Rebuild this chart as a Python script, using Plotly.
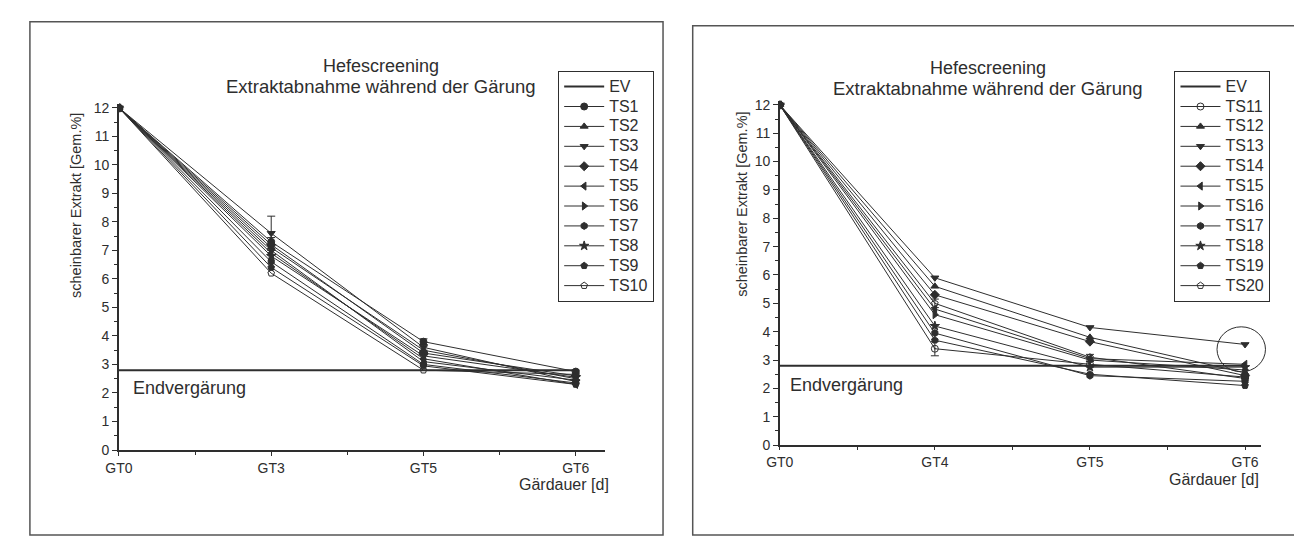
import plotly.graph_objects as go

W, H = 1302, 538

# ---------------- data ----------------
x_left_labels = ["GT0", "GT3", "GT5", "GT6"]
x_right_labels = ["GT0", "GT4", "GT5", "GT6"]
x_pos = [0, 1, 2, 3]

ev_value = [2.8, 2.8, 2.8, 2.8]

left_names = ["TS1", "TS2", "TS3", "TS4", "TS5", "TS6", "TS7", "TS8", "TS9", "TS10"]
TS1 = [12.0, 7.3, 3.8, 2.75]
TS2 = [12.0, 7.1, 3.5, 2.5]
TS3 = [12.0, 7.6, 3.6, 2.4]
TS4 = [12.0, 7.2, 3.4, 2.6]
TS5 = [12.0, 6.9, 3.2, 2.3]
TS6 = [12.0, 7.0, 3.1, 2.45]
TS7 = [12.0, 6.6, 3.0, 2.35]
TS8 = [12.0, 6.8, 3.3, 2.55]
TS9 = [12.0, 6.4, 2.95, 2.3]
TS10 = [12.0, 6.2, 2.8, 2.65]
left_values = [TS1, TS2, TS3, TS4, TS5, TS6, TS7, TS8, TS9, TS10]
left_err = {"TS3": [0, 0.6, 0.1, 0.05], "TS1": [0, 0.15, 0.1, 0.05]}

right_names = ["TS11", "TS12", "TS13", "TS14", "TS15", "TS16", "TS17", "TS18", "TS19", "TS20"]
TS11 = [12.0, 3.4, 2.85, 2.4]
TS12 = [12.0, 5.6, 3.8, 2.55]
TS13 = [12.0, 5.9, 4.15, 3.55]
TS14 = [12.0, 5.3, 3.65, 2.45]
TS15 = [12.0, 4.8, 3.05, 2.85]
TS16 = [12.0, 4.6, 3.0, 2.65]
TS17 = [12.0, 3.95, 2.45, 2.25]
TS18 = [12.0, 4.2, 2.75, 2.75]
TS19 = [12.0, 3.7, 2.5, 2.1]
TS20 = [12.0, 5.0, 3.1, 2.35]
right_values = [TS11, TS12, TS13, TS14, TS15, TS16, TS17, TS18, TS19, TS20]
right_err = {"TS11": [0, 0.25, 0.1, 0.05], "TS20": [0, 0.15, 0.1, 0.05]}

symbols = ["circle", "triangle-up", "triangle-down", "diamond", "triangle-left",
           "triangle-right", "hexagon", "star", "pentagon", "pentagon-open"]
symbols_right = ["circle-open-dot"] + symbols[1:]

y_ticks = list(range(0, 13))

# ---------------- figure ----------------
INK = "#2e2e2e"
FONT = "Liberation Sans"
LEG_TXT = 16

fig = go.Figure()

def leg_label(n):
    return "<span style='font-size:%dpx'>%s</span>" % (LEG_TXT, n)

def add_panel(names, values, errs, syms, xa, ya, legend_name):
    fig.add_trace(go.Scatter(
        x=x_pos, y=ev_value, mode="lines", name=leg_label("EV"),
        line=dict(color=INK, width=2), xaxis=xa, yaxis=ya,
        legend=legend_name, showlegend=True))
    for n, v, s in zip(names, values, syms):
        e = errs.get(n)
        fig.add_trace(go.Scatter(
            x=x_pos, y=v, mode="lines+markers", name=leg_label(n),
            line=dict(color=INK, width=1),
            marker=dict(symbol=s, size=7, color=INK,
                        line=dict(color=INK, width=1)),
            error_y=dict(type="data", array=e, visible=e is not None,
                         color=INK, thickness=1, width=4),
            xaxis=xa, yaxis=ya, legend=legend_name))

add_panel(left_names, left_values, left_err, symbols, "x", "y", "legend")
add_panel(right_names, right_values, right_err, symbols_right, "x2", "y2", "legend2")

def px_x(p):
    return p / W

def px_y(p):
    return 1 - p / H

axis_common = dict(
    showgrid=False, zeroline=False, showline=True, linecolor=INK, linewidth=1.5,
    ticks="outside", ticklen=5, tickwidth=1, tickcolor=INK,
    tickfont=dict(family=FONT, size=14, color=INK),
    minor=dict(ticks="outside", ticklen=3, tickwidth=1, tickcolor=INK),
)

legend_common = dict(xanchor="left", yanchor="top",
                     bordercolor=INK, borderwidth=1, bgcolor="white",
                     font=dict(family=FONT, size=13, color=INK), itemwidth=40,
                     tracegroupgap=0)

fig.update_layout(
    width=W, height=H,
    margin=dict(l=0, r=0, t=0, b=0),
    paper_bgcolor="white", plot_bgcolor="white",
    font=dict(family=FONT, color=INK),
    xaxis=dict(domain=[px_x(98), px_x(589)], range=[0, 3.19],
               tickvals=x_pos, ticktext=x_left_labels, anchor="y",
               **axis_common),
    yaxis=dict(domain=[px_y(448), px_y(93.6)], range=[0, 12.15],
               tickvals=y_ticks, anchor="x", **axis_common),
    xaxis2=dict(domain=[px_x(766), px_x(1252)], range=[0, 3.1],
                tickvals=x_pos, ticktext=x_right_labels, anchor="y2",
                **axis_common),
    yaxis2=dict(domain=[px_y(443), px_y(90.6)], range=[0, 12.15],
                tickvals=y_ticks, anchor="x2", **axis_common),
    legend=dict(x=px_x(542), y=px_y(60), **legend_common),
    legend2=dict(x=px_x(1165), y=px_y(60), **legend_common),
)
fig.update_xaxes(minor=dict(tickvals=[0.5, 1.5, 2.5]), ticklen=4)
fig.update_layout(xaxis2=dict(ticklen=3))
fig.update_yaxes(minor=dict(dtick=0.5))

annotations = []
def ann(text, x, y, size, xanchor="center", angle=0):
    annotations.append(dict(text=text, x=px_x(x), y=px_y(y), xref="paper", yref="paper",
                            showarrow=False, xanchor=xanchor, yanchor="middle",
                            textangle=angle,
                            font=dict(family=FONT, size=size, color=INK)))

for cx, yt1, yt2, ylab_x, ylab_y, endx, endy, gdx, gdy in [
        (363, 55, 76, 54, 198, 110, 385, 595, 483),
        (977, 57, 78, 727, 197, 774, 381, 1252, 478)]:
    ann("Hefescreening", cx, yt1, 18)
    ann("Extraktabnahme während der Gärung", cx, yt2, 18.5)
    ann("scheinbarer Extrakt [Gem.%]", ylab_x, ylab_y, 14.5, angle=-90)
    ann("Endvergärung", endx, endy, 18, xanchor="left")
    ann("Gärdauer [d]", gdx, gdy, 16, xanchor="right")

fig.update_layout(annotations=annotations)

shapes = [
    dict(type="rect", xref="paper", yref="paper", x0=px_x(8), x1=px_x(648),
         y0=px_y(535), y1=px_y(10), line=dict(color="#555", width=1.5)),
    dict(type="rect", xref="paper", yref="paper", x0=px_x(678), x1=px_x(1300),
         y0=px_y(535), y1=px_y(14), line=dict(color="#555", width=1.5)),
    # highlight circle around the TS13 end point (GT6)
    dict(type="circle", xref="paper", yref="paper", x0=px_x(1208), x1=px_x(1257),
         y0=px_y(368), y1=px_y(322), line=dict(color=INK, width=1)),
]
fig.update_layout(shapes=shapes)

fig.write_html("out.html")
